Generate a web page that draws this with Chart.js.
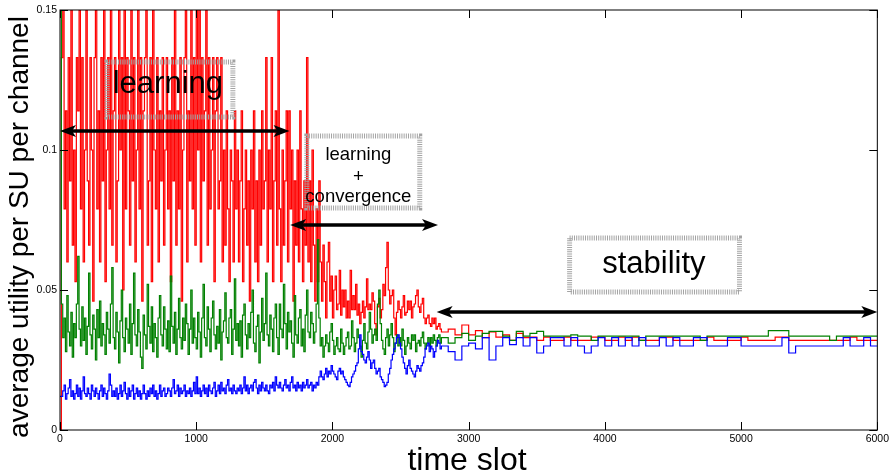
<!DOCTYPE html>
<html>
<head>
<meta charset="utf-8">
<script src="https://cdn.jsdelivr.net/npm/chart.js@4.4.0/dist/chart.umd.min.js"></script>
<style>
  html, body { margin: 0; padding: 0; background: #fff; }
  canvas { display: block; }
</style>
</head>
<body>
<canvas id="utilityChart" width="892" height="475"></canvas>
<script>
const timeSlots = [
  0,
  10, 20, 30, 40, 50, 60, 70, 80, 90, 100,
  110, 120, 130, 140, 150, 160, 170, 180, 190, 200,
  210, 220, 230, 240, 250, 260, 270, 280, 290, 300,
  310, 320, 330, 340, 350, 360, 370, 380, 390, 400,
  410, 420, 430, 440, 450, 460, 470, 480, 490, 500,
  510, 520, 530, 540, 550, 560, 570, 580, 590, 600,
  610, 620, 630, 640, 650, 660, 670, 680, 690, 700,
  710, 720, 730, 740, 750, 760, 770, 780, 790, 800,
  810, 820, 830, 840, 850, 860, 870, 880, 890, 900,
  910, 920, 930, 940, 950, 960, 970, 980, 990, 1000,
  1010, 1020, 1030, 1040, 1050, 1060, 1070, 1080, 1090, 1100,
  1110, 1120, 1130, 1140, 1150, 1160, 1170, 1180, 1190, 1200,
  1210, 1220, 1230, 1240, 1250, 1260, 1270, 1280, 1290, 1300,
  1310, 1320, 1330, 1340, 1350, 1360, 1370, 1380, 1390, 1400,
  1410, 1420, 1430, 1440, 1450, 1460, 1470, 1480, 1490, 1500,
  1510, 1520, 1530, 1540, 1550, 1560, 1570, 1580, 1590, 1600,
  1610, 1620, 1630, 1640, 1650, 1660, 1670, 1680, 1690, 1700,
  1710, 1720, 1730, 1740, 1750, 1760, 1770, 1780, 1790, 1800,
  1810, 1820, 1830, 1840, 1850, 1860, 1870, 1880, 1890, 1900,
  1910, 1920, 1930, 1940, 1950, 1960, 1970, 1980, 1990, 2000,
  2010, 2020, 2030, 2040, 2050, 2060, 2070, 2080, 2090, 2100,
  2110, 2120, 2130, 2140, 2150, 2160, 2170, 2180, 2190, 2200,
  2210, 2220, 2230, 2240, 2250, 2260, 2270, 2280, 2290, 2300,
  2310, 2320, 2330, 2340, 2350, 2360, 2370, 2380, 2390, 2400,
  2410, 2420, 2430, 2440, 2450, 2460, 2470, 2480, 2490, 2500,
  2510, 2520, 2530, 2540, 2550, 2560, 2570, 2580, 2590, 2600,
  2610, 2620, 2630, 2640, 2650, 2660, 2670, 2680, 2690, 2700,
  2710, 2720, 2730, 2740, 2750, 2760, 2770, 2780, 2790, 2800,
  2850, 2900, 2950, 3000, 3050, 3100, 3150, 3200, 3250, 3300,
  3350, 3400, 3450, 3500, 3550, 3600, 3650, 3700, 3750, 3800,
  3850, 3900, 3950, 4000, 4050, 4100, 4150, 4200, 4250, 4300,
  4350, 4400, 4450, 4500, 4550, 4600, 4650, 4700, 4750, 4800,
  4850, 4900, 4950, 5000, 5050, 5100, 5150, 5200, 5250, 5300,
  5350, 5400, 5450, 5500, 5550, 5600, 5650, 5700, 5750, 5800,
  5850, 5900, 5950, 6000
];

const redUtility = [
  0,
  0.133, 0.15, 0.079, 0.114, 0.06, 0.133, 0.089, 0.15, 0.066, 0.1,
  0.053, 0.133, 0.114, 0.15, 0.079, 0.133, 0.06, 0.1, 0.15, 0.089,
  0.066, 0.133, 0.1, 0.046, 0.133, 0.15, 0.079, 0.114, 0.06, 0.133,
  0.089, 0.15, 0.053, 0.1, 0.133, 0.079, 0.15, 0.066, 0.114, 0.133,
  0.06, 0.089, 0.15, 0.1, 0.133, 0.05, 0.15, 0.079, 0.133, 0.114,
  0.066, 0.15, 0.089, 0.133, 0.06, 0.1, 0.15, 0.079, 0.133, 0.046,
  0.114, 0.133, 0.15, 0.066, 0.089, 0.133, 0.053, 0.15, 0.1, 0.079,
  0.133, 0.06, 0.114, 0.089, 0.133, 0.066, 0.1, 0.133, 0.079, 0.114,
  0.053, 0.133, 0.089, 0.15, 0.066, 0.114, 0.079, 0.133, 0.046, 0.1,
  0.133, 0.15, 0.06, 0.114, 0.089, 0.15, 0.079, 0.133, 0.066, 0.15,
  0.1, 0.15, 0.06, 0.133, 0.089, 0.114, 0.15, 0.066, 0.133, 0.079,
  0.1, 0.133, 0.053, 0.114, 0.133, 0.079, 0.089, 0.133, 0.06, 0.1,
  0.066, 0.114, 0.079, 0.053, 0.1, 0.089, 0.06, 0.114, 0.079, 0.1,
  0.06, 0.089, 0.114, 0.053, 0.079, 0.1, 0.066, 0.089, 0.046, 0.1,
  0.079, 0.114, 0.06, 0.089, 0.053, 0.1, 0.066, 0.114, 0.079, 0.089,
  0.133, 0.06, 0.1, 0.079, 0.133, 0.053, 0.089, 0.114, 0.066, 0.15,
  0.079, 0.053, 0.1, 0.066, 0.089, 0.114, 0.06, 0.114, 0.079, 0.1,
  0.046, 0.089, 0.066, 0.1, 0.06, 0.114, 0.079, 0.053, 0.089, 0.066,
  0.133, 0.06, 0.089, 0.053, 0.1, 0.066, 0.046, 0.079, 0.053, 0.089,
  0.06, 0.046, 0.066, 0.053, 0.04, 0.06, 0.067, 0.046, 0.055, 0.04,
  0.05, 0.055, 0.043, 0.045, 0.057, 0.041, 0.05, 0.044, 0.05, 0.04,
  0.046, 0.04, 0.057, 0.043, 0.048, 0.043, 0.052, 0.041, 0.045, 0.038,
  0.042, 0.046, 0.04, 0.044, 0.054, 0.043, 0.045, 0.043, 0.049, 0.046,
  0.038, 0.034, 0.044, 0.047, 0.04, 0.043, 0.052, 0.048, 0.058, 0.067,
  0.05, 0.045, 0.048, 0.05, 0.04, 0.034, 0.042, 0.046, 0.043, 0.04,
  0.044, 0.048, 0.041, 0.042, 0.046, 0.043, 0.046, 0.04, 0.044, 0.045,
  0.048, 0.05, 0.044, 0.042, 0.045, 0.047, 0.04, 0.038, 0.04, 0.041,
  0.038, 0.037, 0.04, 0.038, 0.04, 0.036, 0.037, 0.038, 0.036, 0.035,
  0.036, 0.034, 0.0375, 0.034, 0.0355, 0.033, 0.035, 0.0332, 0.034, 0.032,
  0.0345, 0.033, 0.0332, 0.032, 0.0332, 0.032, 0.032, 0.0332, 0.032, 0.032,
  0.032, 0.0332, 0.0332, 0.032, 0.032, 0.0332, 0.032, 0.0332, 0.032, 0.032,
  0.032, 0.0332, 0.0332, 0.032, 0.032, 0.032, 0.032, 0.032, 0.0332, 0.032,
  0.032, 0.032, 0.032, 0.0332, 0.032, 0.032, 0.032, 0.032, 0.0332, 0.0332,
  0.032, 0.032, 0.032, 0.032, 0.032, 0.032, 0.032, 0.032, 0.032, 0.0332,
  0.032, 0.032, 0.032, 0.032
];

const greenUtility = [
  0.15,
  0.045, 0.033, 0.04, 0.028, 0.048, 0.035, 0.03, 0.042, 0.026, 0.038,
  0.033, 0.045, 0.062, 0.036, 0.03, 0.044, 0.032, 0.04, 0.027, 0.037,
  0.056, 0.034, 0.029, 0.041, 0.036, 0.025, 0.043, 0.033, 0.046, 0.03,
  0.038, 0.034, 0.027, 0.042, 0.036, 0.031, 0.045, 0.058, 0.033, 0.029,
  0.042, 0.035, 0.024, 0.039, 0.05, 0.033, 0.028, 0.04, 0.036, 0.031,
  0.045, 0.027, 0.038, 0.056, 0.034, 0.03, 0.043, 0.035, 0.026, 0.022,
  0.041, 0.034, 0.029, 0.052, 0.037, 0.031, 0.044, 0.028, 0.038, 0.033,
  0.026, 0.04, 0.048, 0.034, 0.03, 0.044, 0.036, 0.029, 0.039, 0.028,
  0.055, 0.037, 0.031, 0.042, 0.027, 0.036, 0.047, 0.033, 0.029, 0.04,
  0.032, 0.045, 0.038, 0.027, 0.036, 0.05, 0.031, 0.04, 0.033, 0.029,
  0.042, 0.035, 0.026, 0.04, 0.052, 0.033, 0.03, 0.044, 0.036, 0.028,
  0.04, 0.046, 0.034, 0.029, 0.037, 0.031, 0.043, 0.025, 0.035, 0.039,
  0.049, 0.033, 0.031, 0.04, 0.043, 0.027, 0.036, 0.054, 0.032, 0.038,
  0.03, 0.039, 0.026, 0.041, 0.045, 0.034, 0.029, 0.038, 0.033, 0.042,
  0.05, 0.031, 0.028, 0.037, 0.041, 0.024, 0.035, 0.047, 0.032, 0.038,
  0.056, 0.034, 0.03, 0.041, 0.036, 0.028, 0.04, 0.045, 0.033, 0.027,
  0.045, 0.036, 0.033, 0.052, 0.038, 0.029, 0.042, 0.035, 0.039, 0.031,
  0.026, 0.048, 0.034, 0.031, 0.04, 0.043, 0.03, 0.036, 0.028, 0.041,
  0.05, 0.035, 0.033, 0.042, 0.038, 0.031, 0.035, 0.045, 0.068, 0.04,
  0.03, 0.033, 0.026, 0.03, 0.034, 0.031, 0.028, 0.035, 0.038, 0.032,
  0.027, 0.03, 0.033, 0.029, 0.028, 0.036, 0.031, 0.027, 0.03, 0.033,
  0.035, 0.029, 0.03, 0.039, 0.033, 0.028, 0.031, 0.036, 0.033, 0.03,
  0.026, 0.032, 0.038, 0.031, 0.029, 0.035, 0.042, 0.036, 0.031, 0.034,
  0.036, 0.032, 0.045, 0.05, 0.038, 0.032, 0.029, 0.027, 0.033, 0.036,
  0.03, 0.034, 0.038, 0.033, 0.028, 0.031, 0.034, 0.03, 0.033, 0.03,
  0.036, 0.032, 0.027, 0.03, 0.033, 0.031, 0.029, 0.034, 0.032, 0.034,
  0.028, 0.031, 0.032, 0.03, 0.033, 0.035, 0.031, 0.029, 0.031, 0.033,
  0.03, 0.033, 0.031, 0.034, 0.032, 0.03, 0.033, 0.034, 0.031, 0.033,
  0.031, 0.033, 0.0345, 0.032, 0.0335, 0.0345, 0.0352, 0.0352, 0.0335, 0.032,
  0.0352, 0.0335, 0.0345, 0.0352, 0.0335, 0.0335, 0.0335, 0.0335, 0.034, 0.0335,
  0.0335, 0.032, 0.0335, 0.0335, 0.0335, 0.0335, 0.0335, 0.0335, 0.032, 0.0335,
  0.0335, 0.0335, 0.0335, 0.0335, 0.0335, 0.0335, 0.0335, 0.032, 0.0335, 0.0335,
  0.0335, 0.0335, 0.0335, 0.0335, 0.0335, 0.0335, 0.0335, 0.0355, 0.0355, 0.0355,
  0.0335, 0.0335, 0.0335, 0.0335, 0.0335, 0.0335, 0.032, 0.0335, 0.0335, 0.0335,
  0.0335, 0.0335, 0.0335, 0.0335
];

const blueUtility = [
  0.012,
  0.012, 0.014, 0.016, 0.011, 0.013, 0.015, 0.018, 0.012, 0.014, 0.011,
  0.013, 0.016, 0.012, 0.015, 0.011, 0.014, 0.019, 0.013, 0.012, 0.015,
  0.013, 0.011, 0.016, 0.014, 0.012, 0.015, 0.013, 0.011, 0.014, 0.016,
  0.012, 0.015, 0.013, 0.011, 0.014, 0.02, 0.016, 0.012, 0.014, 0.012,
  0.015, 0.011, 0.013, 0.016, 0.012, 0.014, 0.017, 0.013, 0.011, 0.015,
  0.012, 0.014, 0.016, 0.011, 0.013, 0.015, 0.012, 0.014, 0.011, 0.013,
  0.016, 0.013, 0.011, 0.014, 0.012, 0.015, 0.013, 0.016, 0.012, 0.014,
  0.011, 0.013, 0.016, 0.012, 0.014, 0.015, 0.012, 0.013, 0.015, 0.014,
  0.012, 0.015, 0.018, 0.013, 0.014, 0.016, 0.012, 0.015, 0.013, 0.014,
  0.016, 0.012, 0.014, 0.013, 0.015, 0.012, 0.014, 0.017, 0.013, 0.019,
  0.013, 0.015, 0.012, 0.014, 0.016, 0.013, 0.015, 0.012, 0.016, 0.014,
  0.013, 0.015, 0.017, 0.012, 0.014, 0.016, 0.013, 0.017, 0.014, 0.015,
  0.013, 0.016, 0.018, 0.014, 0.015, 0.013, 0.016, 0.014, 0.013, 0.015,
  0.014, 0.016, 0.013, 0.015, 0.019, 0.014, 0.016, 0.013, 0.015, 0.016,
  0.014, 0.017, 0.018, 0.015, 0.013, 0.016, 0.014, 0.017, 0.015, 0.014,
  0.016, 0.014, 0.013, 0.016, 0.015, 0.017, 0.014, 0.019, 0.016, 0.015,
  0.017, 0.015, 0.014, 0.016, 0.018, 0.015, 0.016, 0.014, 0.017, 0.019,
  0.015, 0.016, 0.014, 0.017, 0.015, 0.016, 0.014, 0.017, 0.015, 0.016,
  0.018, 0.015, 0.016, 0.017, 0.014, 0.016, 0.015, 0.017, 0.016, 0.019,
  0.021, 0.019, 0.018, 0.02, 0.022, 0.019, 0.021, 0.02, 0.023, 0.021,
  0.02, 0.019, 0.018, 0.021, 0.022, 0.02, 0.021, 0.019, 0.018, 0.017,
  0.016, 0.0155, 0.017, 0.019, 0.02, 0.021, 0.023, 0.024, 0.029, 0.034,
  0.028, 0.027, 0.025, 0.024, 0.026, 0.028, 0.025, 0.022, 0.024, 0.025,
  0.022, 0.02, 0.021, 0.022, 0.019, 0.018, 0.017, 0.0155, 0.016, 0.017,
  0.02, 0.022, 0.025, 0.027, 0.029, 0.031, 0.033, 0.034, 0.031, 0.029,
  0.026, 0.024, 0.022, 0.02, 0.023, 0.025, 0.022, 0.021, 0.02, 0.019,
  0.021, 0.023, 0.022, 0.021, 0.023, 0.024, 0.026, 0.029, 0.03, 0.031,
  0.028, 0.03, 0.029, 0.026, 0.028, 0.03, 0.032, 0.031, 0.029, 0.03,
  0.028, 0.025, 0.03, 0.031, 0.029, 0.033, 0.025, 0.03, 0.033, 0.0305,
  0.033, 0.03, 0.033, 0.0275, 0.03, 0.033, 0.033, 0.03, 0.033, 0.03,
  0.0275, 0.03, 0.033, 0.03, 0.033, 0.03, 0.033, 0.03, 0.033, 0.03,
  0.03, 0.033, 0.03, 0.033, 0.03, 0.03, 0.033, 0.033, 0.03, 0.03,
  0.03, 0.033, 0.033, 0.03, 0.03, 0.03, 0.03, 0.03, 0.03, 0.033,
  0.0275, 0.03, 0.03, 0.03, 0.03, 0.03, 0.03, 0.03, 0.033, 0.03,
  0.03, 0.033, 0.03, 0.03
];

const xTickValues = [0, 1000, 2000, 3000, 4000, 5000, 6000];
const yTickValues = [0, 0.05, 0.1, 0.15];

// phase annotations, placed in data units
const phaseArrows = [
  { x0: 0, x1: 1685, y: 0.1068 },
  { x0: 1690, x1: 2775, y: 0.0732 },
  { x0: 2765, x1: 6000, y: 0.0421 }
];
const phaseBoxes = [
  { x0: 345, x1: 1269, y0: 0.1314, y1: 0.1118, textX: 792, size: 31,
    lines: [{ text: 'learning', base: 0.1204 }] },
  { x0: 1812, x1: 2641, y0: 0.105, y1: 0.0793, textX: 2190, size: 18.5,
    lines: [{ text: 'learning', base: 0.0964 }, { text: '+', base: 0.0886 }, { text: 'convergence', base: 0.0814 }] },
  { x0: 3741, x1: 4988, y0: 0.0686, y1: 0.0493, textX: 4360, size: 31,
    lines: [{ text: 'stability', base: 0.0561 }] }
];

const FONT = '"Liberation Sans", Arial, Helvetica, sans-serif';

function toPoints(values) {
    return values.map((v, i) => ({ x: timeSlots[i], y: v }));
}

function arrowHead(ctx, tipX, tipY, dir) {
    const len = 16, half = 6, notch = 12;
    ctx.beginPath();
    ctx.moveTo(tipX, tipY);
    ctx.lineTo(tipX - dir * len, tipY - half);
    ctx.lineTo(tipX - dir * notch, tipY);
    ctx.lineTo(tipX - dir * len, tipY + half);
    ctx.closePath();
    ctx.fill();
}

// matlab-like frame, inward ticks, annotations and axis titles
const matlabDecor = {
    id: 'matlabDecor',
    afterDatasetsDraw(chart) {
        const { ctx, chartArea: a } = chart;
        const xs = chart.scales.x, ys = chart.scales.y;
        ctx.save();

        // dotted text boxes
        phaseBoxes.forEach(b => {
            const bx0 = xs.getPixelForValue(b.x0), bx1 = xs.getPixelForValue(b.x1);
            const by0 = ys.getPixelForValue(b.y0), by1 = ys.getPixelForValue(b.y1);
            ctx.setLineDash([1, 1.2]);
            ctx.lineWidth = 5;
            ctx.strokeStyle = '#a3a3a3';
            ctx.strokeRect(bx0, by0, bx1 - bx0, by1 - by0);
            ctx.setLineDash([]);
            ctx.fillStyle = '#000';
            ctx.font = b.size + 'px ' + FONT;
            ctx.textAlign = 'center';
            ctx.textBaseline = 'alphabetic';
            b.lines.forEach(l => {
                ctx.fillText(l.text, xs.getPixelForValue(b.textX), ys.getPixelForValue(l.base));
            });
        });

        // double headed arrows
        ctx.fillStyle = '#000';
        ctx.strokeStyle = '#000';
        ctx.lineWidth = 3.5;
        phaseArrows.forEach(ar => {
            const px0 = xs.getPixelForValue(ar.x0), px1 = xs.getPixelForValue(ar.x1);
            const py = ys.getPixelForValue(ar.y);
            ctx.beginPath();
            ctx.moveTo(px0 + 10, py);
            ctx.lineTo(px1 - 10, py);
            ctx.stroke();
            arrowHead(ctx, px0, py, -1);
            arrowHead(ctx, px1, py, 1);
        });

        // box and inward ticks
        ctx.lineWidth = 1;
        ctx.strokeRect(a.left, a.top, a.right - a.left, a.bottom - a.top);
        ctx.beginPath();
        xTickValues.forEach(v => {
            const px = Math.round(xs.getPixelForValue(v)) + 0.5;
            ctx.moveTo(px, a.bottom); ctx.lineTo(px, a.bottom - 8);
            ctx.moveTo(px, a.top); ctx.lineTo(px, a.top + 8);
        });
        yTickValues.forEach(v => {
            const py = Math.round(ys.getPixelForValue(v)) + 0.5;
            ctx.moveTo(a.left, py); ctx.lineTo(a.left + 8, py);
            ctx.moveTo(a.right, py); ctx.lineTo(a.right - 8, py);
        });
        ctx.stroke();

        // axis titles
        ctx.fillStyle = '#000';
        ctx.textAlign = 'center';
        ctx.textBaseline = 'alphabetic';
        ctx.font = '32px ' + FONT;
        ctx.fillText('time slot', 467, 470);
        ctx.translate(28, 227);
        ctx.rotate(-Math.PI / 2);
        ctx.font = '28px ' + FONT;
        ctx.fillText('average utility per SU per channel', 0, 0);

        ctx.restore();
    }
};

const lineStyle = {
    borderWidth: 1.2,
    pointRadius: 0,
    stepped: true,
    tension: 0,
    fill: false
};

new Chart(document.getElementById('utilityChart'), {
    type: 'line',
    data: {
        datasets: [
            Object.assign({ label: 'SU 3', data: toPoints(blueUtility), borderColor: '#0000ff' }, lineStyle),
            Object.assign({ label: 'SU 2', data: toPoints(greenUtility), borderColor: '#008000' }, lineStyle),
            Object.assign({ label: 'SU 1', data: toPoints(redUtility), borderColor: '#ff0000' }, lineStyle)
        ]
    },
    options: {
        responsive: false,
        animation: false,
        devicePixelRatio: 1,
        layout: { padding: { left: 0, right: 14, top: 10, bottom: 0 } },
        plugins: {
            legend: { display: false },
            tooltip: { enabled: false }
        },
        scales: {
            x: {
                type: 'linear',
                min: 0,
                max: 6000,
                grid: { display: false, drawTicks: false },
                border: { display: false },
                afterBuildTicks: scale => { scale.ticks = xTickValues.map(v => ({ value: v })); },
                afterFit: scale => { scale.height = 45; },
                ticks: {
                    padding: 3,
                    maxRotation: 0,
                    color: '#000',
                    font: { family: FONT, size: 10.5 },
                    callback: v => String(v)
                }
            },
            y: {
                min: 0,
                max: 0.15,
                grid: { display: false, drawTicks: false },
                border: { display: false },
                afterBuildTicks: scale => { scale.ticks = yTickValues.map(v => ({ value: v })); },
                afterFit: scale => { scale.width = 60; },
                ticks: {
                    padding: 3,
                    color: '#000',
                    font: { family: FONT, size: 10.5 },
                    callback: v => String(+v.toFixed(2))
                }
            }
        }
    },
    plugins: [matlabDecor]
});
</script>
</body>
</html>
